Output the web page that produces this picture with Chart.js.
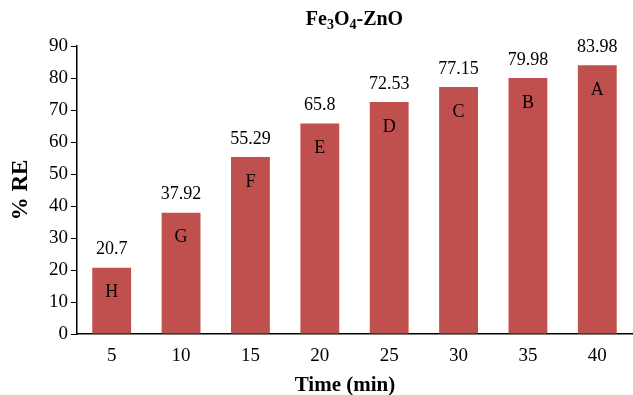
<!DOCTYPE html>
<html>
<head>
<meta charset="utf-8">
<script src="https://cdn.jsdelivr.net/npm/chart.js@4.4.0/dist/chart.umd.min.js"></script>
<style>
  body { margin: 0; background: #fff; }
  #box { width: 633px; height: 395px; }
</style>
</head>
<body>
<div id="box"><canvas id="myChart" width="633" height="395"></canvas></div>
<script>
// removal efficiency vs contact time
const times = ["5", "10", "15", "20", "25", "30", "35", "40"];
const removal = [20.7, 37.92, 55.29, 65.8, 72.53, 77.15, 79.98, 83.98];
const groups = ["H", "G", "F", "E", "D", "C", "B", "A"];

const serif = "'Liberation Serif', 'Times New Roman', serif";

// value above each bar, letter inside near the top
const barText = {
  id: "barText",
  afterDatasetsDraw(chart) {
    const ctx = chart.ctx;
    const meta = chart.getDatasetMeta(0);
    ctx.save();
    ctx.fillStyle = "#000";
    ctx.textAlign = "center";
    ctx.textBaseline = "middle";
    ctx.font = "18px " + serif;
    meta.data.forEach((bar, i) => {
      ctx.fillText(String(removal[i]), bar.x, bar.y - 18);
      ctx.fillText(groups[i], bar.x, bar.y + 25);
    });
    ctx.restore();
  },
};

// title with subscripts (Fe3O4-ZnO) and the x axis caption
const titles = {
  id: "titles",
  afterDraw(chart) {
    const ctx = chart.ctx;
    const parts = [["Fe", 0], ["3", 1], ["O", 0], ["4", 1], ["-ZnO", 0]];
    const big = "bold 20px " + serif;
    const small = "bold 14px " + serif;
    ctx.save();
    let total = 0;
    parts.forEach((p) => {
      ctx.font = p[1] ? small : big;
      total += ctx.measureText(p[0]).width;
    });
    let x = (chart.chartArea.left + chart.chartArea.right) / 2 - total / 2;
    const y = 25;
    ctx.fillStyle = "#000";
    ctx.textBaseline = "alphabetic";
    ctx.textAlign = "left";
    parts.forEach((p) => {
      ctx.font = p[1] ? small : big;
      ctx.fillText(p[0], x, p[1] ? y + 4 : y);
      x += ctx.measureText(p[0]).width;
    });

    ctx.font = "bold 21px " + serif;
    ctx.textAlign = "center";
    ctx.fillText("Time (min)", chart.chartArea.left + 268, 391);
    ctx.restore();
  },
};

let ctx = document.getElementById("myChart").getContext("2d");
new Chart(ctx, {
  type: "bar",
  data: {
    labels: times,
    datasets: [
      {
        label: "% RE",
        data: removal,
        backgroundColor: "#C0504D",
        borderWidth: 0,
        categoryPercentage: 1.0,
        barPercentage: 0.56,
      },
    ],
  },
  options: {
    responsive: false,
    animation: false,
    layout: { padding: { top: 46, right: 1, left: 0, bottom: 0 } },
    plugins: {
      legend: { display: false },
      tooltip: { enabled: false },
    },
    scales: {
      x: {
        grid: { display: false, drawTicks: false },
        border: { display: true, color: "#000", width: 1.5 },
        ticks: { color: "#000", font: { family: serif, size: 19 }, padding: 11 },
        afterFit(scale) {
          scale.height = 61;
        },
      },
      y: {
        min: 0,
        max: 90,
        ticks: { stepSize: 10, color: "#000", font: { family: serif, size: 19 }, padding: 3 },
        grid: { display: true, drawOnChartArea: false, drawTicks: true, tickLength: 6, color: "#000" },
        border: { display: true, color: "#000", width: 1.5 },
        title: {
          display: true,
          text: "% RE",
          color: "#000",
          font: { family: serif, size: 23, weight: "bold" },
          padding: { top: 7, bottom: 2 },
        },
        afterFit(scale) {
          scale.width = 77;
        },
      },
    },
  },
  plugins: [barText, titles],
});
</script>
</body>
</html>
